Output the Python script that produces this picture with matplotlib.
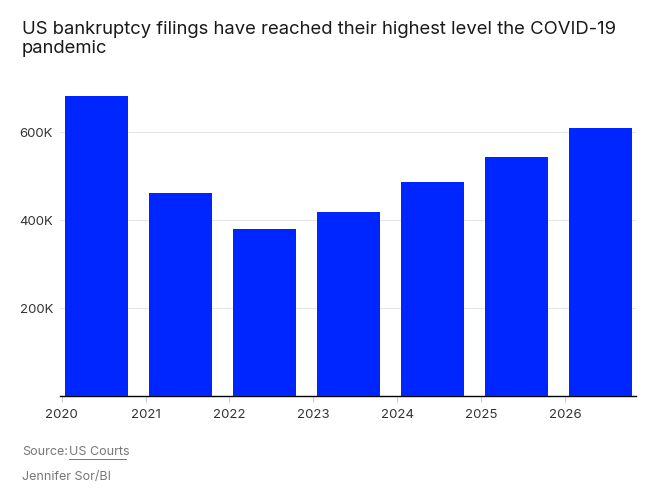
import matplotlib.pyplot as plt
from matplotlib.ticker import FuncFormatter

# bankruptcy filings per year (thousands)
years = [2020, 2021, 2022, 2023, 2024, 2025, 2026]
filings = [683, 462, 380, 419, 487, 544, 610]
ytick_vals = [200, 400, 600]

plt.rcParams['font.family'] = ['Inter', 'DejaVu Sans']

fig = plt.figure(figsize=(6.6, 4.92), dpi=100)
ax = fig.add_axes([0.0909, 0.1945, 0.872, 0.6266])

# bars start just after the year tick and cover ~3/4 of the year
ax.bar([y + 0.045 for y in years], filings, width=0.75, align='edge',
       color='#0026ff', zorder=3)

ax.set_xlim(2019.98, 2026.84)
ax.set_ylim(0, 700)
ax.set_xticks(years)
ax.set_xticklabels([str(y) for y in years])
ax.set_yticks(ytick_vals)
ax.yaxis.set_major_formatter(FuncFormatter(lambda v, p: f'{int(v)}K'))

ax.grid(axis='y', color='#e6e6e6', linewidth=0.8, zorder=0)
for s in ['top', 'right', 'left']:
    ax.spines[s].set_visible(False)
ax.spines['bottom'].set_color('#000000')
ax.spines['bottom'].set_linewidth(1.0)

ax.tick_params(axis='x', length=4, color='#cccccc', labelsize=9.5,
               labelcolor='#333333', pad=5)
ax.tick_params(axis='y', length=0, labelsize=9.5, labelcolor='#333333', pad=5)

fig.text(0.033, 0.958, 'US bankruptcy filings have reached their highest level the COVID-19',
         fontsize=13.3, color='#1a1a1a', va='top')
fig.text(0.033, 0.918, 'pandemic', fontsize=13.3, color='#1a1a1a', va='top')

fig.text(0.033, 0.082, 'Source:', fontsize=9, color='#777777', va='center')
fig.text(0.105, 0.082, 'US Courts', fontsize=9, color='#777777', va='center')
fig.text(0.033, 0.030, 'Jennifer Sor/BI', fontsize=9, color='#777777', va='center')
# underline for the source link
fig.add_artist(plt.Line2D([0.105, 0.191], [0.068, 0.068], color='#777777',
                          linewidth=0.7, transform=fig.transFigure))

fig.savefig('out.png', dpi=100)
